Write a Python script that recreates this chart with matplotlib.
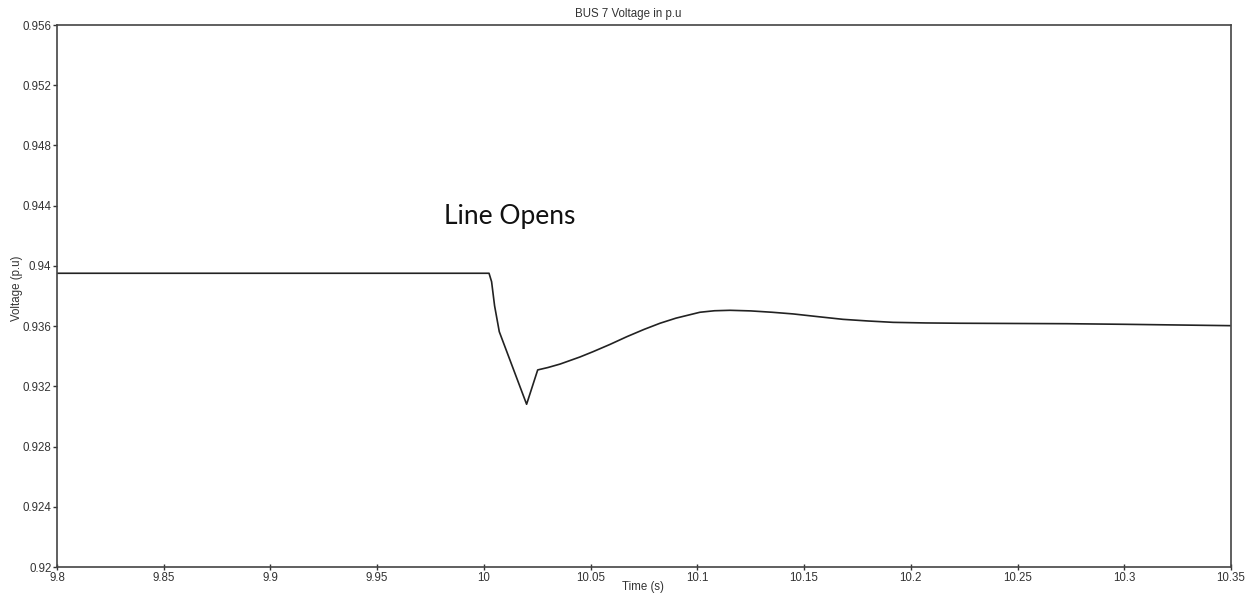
import matplotlib.pyplot as plt
import numpy as np

# bus 7 voltage trace (time in s, voltage in p.u)
time_s = [9.80, 10.0024, 10.0036, 10.0050, 10.0072, 10.0200, 10.0252, 10.0300,
          10.0357, 10.0450, 10.0511, 10.0590, 10.0670, 10.0750, 10.0825,
          10.0900, 10.1012, 10.1080, 10.1153, 10.1250, 10.1350, 10.1448,
          10.1570, 10.1682, 10.1800, 10.1917, 10.2070, 10.2230, 10.2732,
          10.3000, 10.3495]
voltage_pu = [0.93951, 0.93951, 0.93895, 0.93735, 0.93563, 0.93081, 0.93309, 0.93325,
              0.93348, 0.93395, 0.93430, 0.93478, 0.93530, 0.93578, 0.93619,
              0.93653, 0.93692, 0.93702, 0.93705, 0.93701, 0.93692, 0.93681,
              0.93662, 0.93645, 0.93634, 0.93625, 0.93621, 0.93619, 0.93616,
              0.93612, 0.93603]

x_ticks = [9.8, 9.85, 9.9, 9.95, 10, 10.05, 10.1, 10.15, 10.2, 10.25, 10.3, 10.35]
x_labels = ['9.8', '9.85', '9.9', '9.95', '10', '10.05', '10.1', '10.15',
            '10.2', '10.25', '10.3', '10.35']
y_ticks = [0.92, 0.924, 0.928, 0.932, 0.936, 0.94, 0.944, 0.948, 0.952, 0.956]
y_labels = ['0.92', '0.924', '0.928', '0.932', '0.936', '0.94', '0.944',
            '0.948', '0.952', '0.956']

plt.rcParams['font.family'] = ['Liberation Sans', 'DejaVu Sans']

fig = plt.figure(figsize=(12.51, 5.96), dpi=100)
ax = fig.add_axes([57 / 1251, 1 - 567 / 596, (1231 - 57) / 1251, (567 - 25) / 596])

ax.plot(time_s, voltage_pu, color='#222222', lw=1.2)

ax.set_xlim(9.8, 10.35)
ax.set_ylim(0.92, 0.956)
ax.set_xticks(x_ticks)
ax.set_xticklabels(x_labels)
ax.set_yticks(y_ticks)
ax.set_yticklabels(y_labels)

ax.tick_params(axis='x', direction='inout', length=5, width=1, labelsize=8.3,
               pad=1, colors='#333333')
ax.tick_params(axis='y', direction='out', length=3, width=1, labelsize=8.3,
               pad=1, colors='#333333')
for side in ['left', 'bottom', 'right', 'top']:
    ax.spines[side].set_color('#444444')
    ax.spines[side].set_linewidth(1.2)

fig.text(628 / 1251, 1 - 14 / 596, 'BUS 7 Voltage in p.u', ha='center', va='center',
         fontsize=8.3, color='#333333')
fig.text(643 / 1251, 1 - 587 / 596, 'Time (s)', ha='center', va='center',
         fontsize=8.3, color='#333333')
fig.text(17 / 1251, 1 - 288 / 596, 'Voltage (p.u)', ha='center', va='center',
         rotation=90, fontsize=8.3, color='#333333')

ax.text(10.0122, 0.9433, 'Line Opens', ha='center', va='center', fontsize=19,
        family=['Lato', 'DejaVu Sans'], color='#111111')

fig.savefig('out.png', dpi=100, facecolor='white')
